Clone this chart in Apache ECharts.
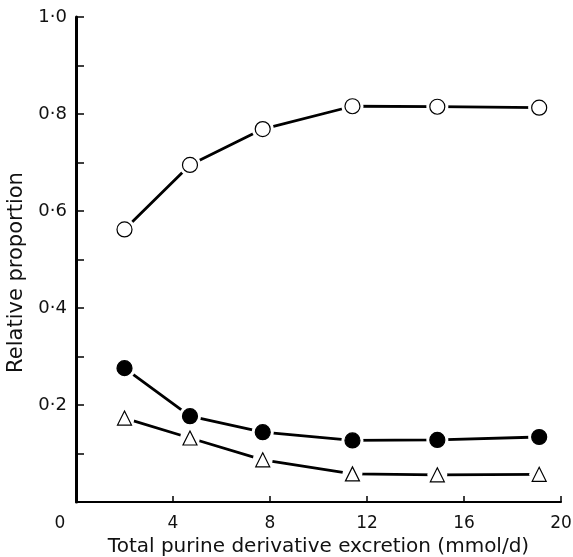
<!DOCTYPE html>
<html><head><meta charset="utf-8">
<script src="https://cdn.jsdelivr.net/npm/echarts@6/dist/echarts.min.js"></script>
<style>html,body{margin:0;padding:0;background:#fff}#c{width:573px;height:557px}</style>
</head><body><div id="c"></div>
<script>
const xValues = [2.0, 4.7, 7.7, 11.4, 14.9, 19.1];
const openCircle = [0.562, 0.695, 0.769, 0.816, 0.815, 0.813];
const filledCircle = [0.276, 0.177, 0.144, 0.127, 0.128, 0.134];
const openTriangle = [0.173, 0.132, 0.087, 0.058, 0.056, 0.057];
const xTicks = [0, 4, 8, 12, 16, 20];
const yTickLabels = [0.2, 0.4, 0.6, 0.8, 1.0];

const pairs = ys => xValues.map((x, i) => [x, ys[i]]);
const FONT = '"DejaVu Sans", Verdana, sans-serif';

function lineSeries(ys, z) {
  return {type: 'line', data: pairs(ys), symbol: 'none', z: z,
    lineStyle: {color: '#000', width: 2.8}, silent: true};
}
function haloSeries(ys, size, z) {
  return {type: 'line', data: pairs(ys), symbol: 'circle', symbolSize: size, z: z,
    lineStyle: {opacity: 0}, itemStyle: {color: '#fff', borderWidth: 0}, silent: true};
}
function markSeries(ys, symbol, size, fill, z) {
  return {type: 'line', data: pairs(ys), symbol: symbol, symbolSize: size, z: z,
    lineStyle: {opacity: 0}, itemStyle: {color: fill, borderColor: '#000', borderWidth: 1.2}, silent: true};
}

const chart = echarts.init(document.getElementById('c'), null, {renderer: 'canvas'});
chart.setOption({
  animation: false,
  backgroundColor: '#fff',
  grid: {left: 76, right: 12, top: 17, bottom: 55, containLabel: false, outerBoundsMode: 'none'},
  xAxis: {
    type: 'value', min: 0, max: 20, interval: 4,
    name: 'Total purine derivative excretion (mmol/d)', nameLocation: 'middle', nameGap: 29,
    nameTextStyle: {fontFamily: FONT, fontSize: 20, color: '#111'},
    axisLine: {lineStyle: {color: '#000', width: 2}},
    axisTick: {inside: true, length: 6, lineStyle: {color: '#000', width: 1.5}},
    splitLine: {show: false},
    axisLabel: {
      margin: 13, fontFamily: FONT, fontSize: 17, color: '#111',
      formatter: v => xTicks.indexOf(v) === 0 ? '{z|' + v + '}' : String(v),
      rich: {z: {fontFamily: FONT, fontSize: 17, color: '#111', padding: [0, 32, 0, 0]}}
    }
  },
  yAxis: {
    type: 'value', min: 0, max: 1, interval: 0.1,
    name: 'Relative proportion', nameLocation: 'middle', nameGap: 48,
    nameTextStyle: {fontFamily: FONT, fontSize: 21, color: '#111', padding: [0, 26, 0, 0]},
    axisLine: {lineStyle: {color: '#000', width: 3}},
    axisTick: {inside: true, length: 8, lineStyle: {color: '#000', width: 1.5}},
    splitLine: {show: false},
    axisLabel: {
      margin: 9, fontFamily: FONT, fontSize: 18, color: '#111',
      formatter: v => {
        const r = Math.round(v * 10) / 10;
        const hit = yTickLabels.find(t => Math.abs(t - r) < 1e-6);
        return hit === undefined ? '' : hit.toFixed(1).replace('.', '\u00b7');
      }
    }
  },
  series: [
    lineSeries(openCircle, 2), lineSeries(filledCircle, 2), lineSeries(openTriangle, 2),
    haloSeries(openCircle, 22, 3), haloSeries(filledCircle, 22, 3), haloSeries(openTriangle, 20, 3),
    markSeries(openCircle, 'circle', 15, '#fff', 4),
    markSeries(filledCircle, 'circle', 15, '#000', 4),
    markSeries(openTriangle, 'triangle', 14, '#fff', 4)
  ]
});
</script></body></html>
